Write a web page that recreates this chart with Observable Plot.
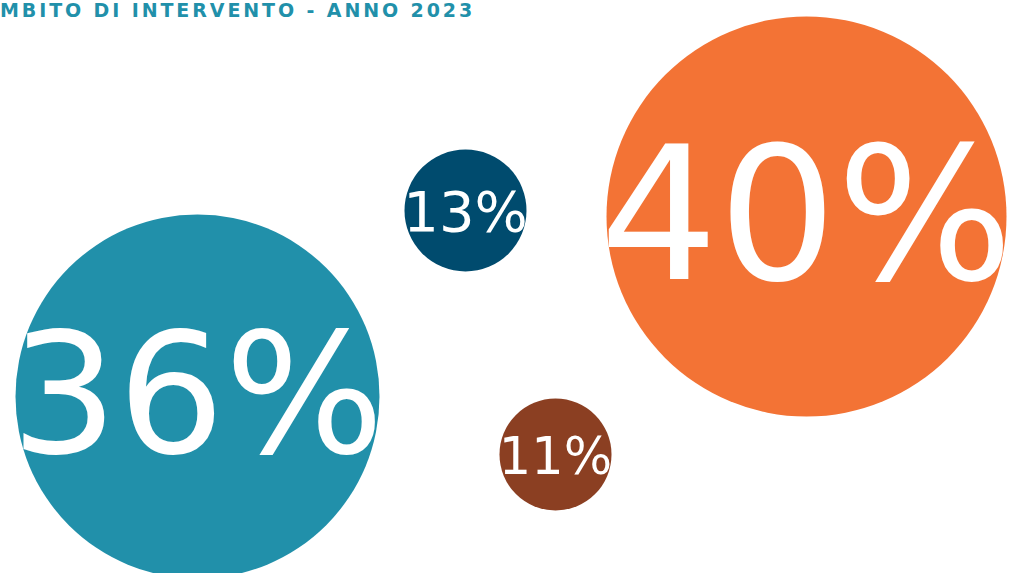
<!DOCTYPE html>
<html>
<head>
<meta charset="utf-8">
<script src="https://cdn.jsdelivr.net/npm/d3@7"></script>
<script src="https://cdn.jsdelivr.net/npm/@observablehq/plot@0.6"></script>
<style>
  html, body { margin: 0; padding: 0; background: #fff; overflow: hidden; }
  #title {
    font-family: "DejaVu Sans", sans-serif; font-weight: 700; font-size: 19px;
    color: #2190AA; height: 22px; line-height: 22px; white-space: nowrap;
    margin-top: -1px; letter-spacing: 2.9px;
  }
  #chart svg { display: block; }
</style>
</head>
<body>
<div id="title">MBITO DI INTERVENTO - ANNO 2023</div>
<div id="chart"></div>
<script>
// Data
const categories = ["A", "B", "C", "D"];
const values = [36, 13, 40, 11];
const labels = ["36%", "13%", "40%", "11%"];
// bubble layout (page layout units)
const layoutX = [197, 465, 806, 555];
const layoutY = [397, 211, 217, 455];

const colors = ["#2190AA", "#004B6E", "#F37335", "#8B3F22"];

const data = categories.map((c, i) => ({cat: c, value: values[i], label: labels[i], lx: layoutX[i], ly: layoutY[i]}));

const W = 1012, TITLE_H = 22, H = 574 - TITLE_H;
const rDomain = [11, 13, 36, 40];
const rRange = [56, 61, 182, 200];
const fontScale = d3.scaleLinear().domain(rDomain).range([51, 56, 168, 186]);

const chart = Plot.plot({
  width: W,
  height: H,
  margin: 0,
  style: {overflow: "visible", background: "transparent"},
  x: {domain: [0, W], range: [0, W], axis: null},
  y: {domain: [TITLE_H, 574], range: [0, H], axis: null},
  r: {type: "linear", domain: rDomain, range: rRange},
  color: {domain: categories, range: colors},
  marks: [
    Plot.dot(data, {x: "lx", y: "ly", r: "value", fill: "cat", stroke: null}),
    Plot.text(data, {
      x: "lx", y: "ly", text: "label", fill: "white",
      fontSize: d => fontScale(d.value),
      fontFamily: "DejaVu Sans", textAnchor: "middle", lineAnchor: "middle",
      dy: 3
    })
  ]
});
document.getElementById("chart").appendChild(chart);
</script>
</body>
</html>
